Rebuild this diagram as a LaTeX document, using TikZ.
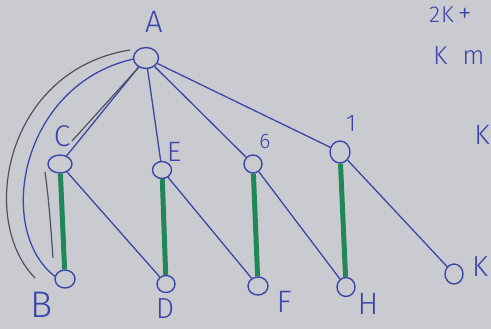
\documentclass[tikz,border=0pt]{standalone}
\usepackage{fontspec}
\setmainfont{Fira Sans}[UprightFont={* Light}]
\usetikzlibrary{shapes.geometric}
\definecolor{paper}{RGB}{201,203,209}
\definecolor{ink}{RGB}{60,70,168}
\definecolor{pen}{RGB}{34,135,88}
\definecolor{pencil}{RGB}{78,82,96}
\begin{document}
\begin{tikzpicture}[x=1pt,y=-1pt,
  vertex/.style={draw=ink, line width=1.4pt, ellipse, inner sep=0pt,
                 minimum width=19pt, minimum height=17pt},
  tag/.style={text=ink, inner sep=0pt, font=\fontsize{28}{28}\selectfont},
  link/.style={draw=ink, line width=1.3pt},
  match/.style={draw=pen, line width=5pt},
  trace/.style={draw=pencil, line width=1.2pt}]
\fill[paper] (0,0) rectangle (491,329);
\useasboundingbox (0,0) rectangle (491,329);

% vertices
\node[vertex, minimum width=25pt, minimum height=21pt] (A) at (146,58) {};
\node[vertex, minimum width=24pt, minimum height=18pt] (C) at (60,164) {};
\node[vertex] (E) at (162,170) {};
\node[vertex, minimum width=18pt, minimum height=18pt] (G) at (253,164) {};
\node[vertex, minimum width=20pt, minimum height=22pt] (I) at (340,152) {};
\node[vertex, minimum width=20pt, minimum height=18pt] (B) at (65,279) {};
\node[vertex, minimum width=18pt] (D) at (166,284) {};
\node[vertex, minimum width=20pt, minimum height=18pt] (F) at (258,286) {};
\node[vertex, minimum width=18pt, minimum height=19pt] (H) at (346,287) {};
\node[vertex, minimum width=18pt, minimum height=20pt] (K) at (454,274) {};

% vertex labels
\node[tag, font=\fontsize{31}{31}\selectfont] (lA) at (154,22) {A};
\node[tag, font=\fontsize{30}{30}\selectfont] (lC) at (62,136) {C};
\node[tag, font=\fontsize{28}{28}\selectfont] (lE) at (174,152) {E};
\node[tag, font=\fontsize{21}{21}\selectfont] (lG) at (265,142) {6};
\node[tag, font=\fontsize{24}{24}\selectfont] (lI) at (351,124) {1};
\node[tag, font=\fontsize{37}{37}\selectfont] (lB) at (42,305) {B};
\node[tag, font=\fontsize{29}{29}\selectfont] (lD) at (165,309) {D};
\node[tag, font=\fontsize{31}{31}\selectfont] (lF) at (284,302) {F};
\node[tag, font=\fontsize{31}{31}\selectfont] (lH) at (368,304) {H};
\node[tag, font=\fontsize{29}{29}\selectfont] (lK) at (480,267) {K};

% notes on the right
\node[tag, anchor=west, font=\fontsize{23}{23}\selectfont] (n1) at (429,15)
  {2\kern1pt K\kern4pt{\fontsize{28}{28}\selectfont +}};
\node[tag, anchor=west, font=\fontsize{26}{26}\selectfont] (n2) at (433,56) {K\kern15pt m};
\node[tag, font=\fontsize{28}{28}\selectfont] (n3) at (482,135) {K};

% tree edges
\draw[link] (A) -- (C);
\draw[link] (A) -- (E);
\draw[link] (A) -- (G);
\draw[link] (A) -- (I);
\draw[link] (C) -- (D);
\draw[link] (E) -- (F);
\draw[link] (G) -- (H);
\draw[link] (I) -- (K);

% matched pairs
\draw[match] (C) -- (B);
\draw[match] (E) -- (D);
\draw[match] (G) -- (F);
\draw[match] (I) -- (H);

% long arc from A round to B
\draw[link] (A.185) .. controls (20,85) and (-5,230) .. (B.165);

% pencil marks
\coordinate (p1) at (130,50);
\coordinate (p2) at (35,278);
\coordinate (p3) at (72,141);
\coordinate (p4) at (45,172);
\coordinate (p5) at (53,258);
\draw[trace] (p1) .. controls (5,70) and (-22,220) .. (p2);
\draw[trace] (A.232) -- (p3);
\draw[trace] (p4) .. controls (49,200) and (51,230) .. (p5);
\end{tikzpicture}
\end{document}
